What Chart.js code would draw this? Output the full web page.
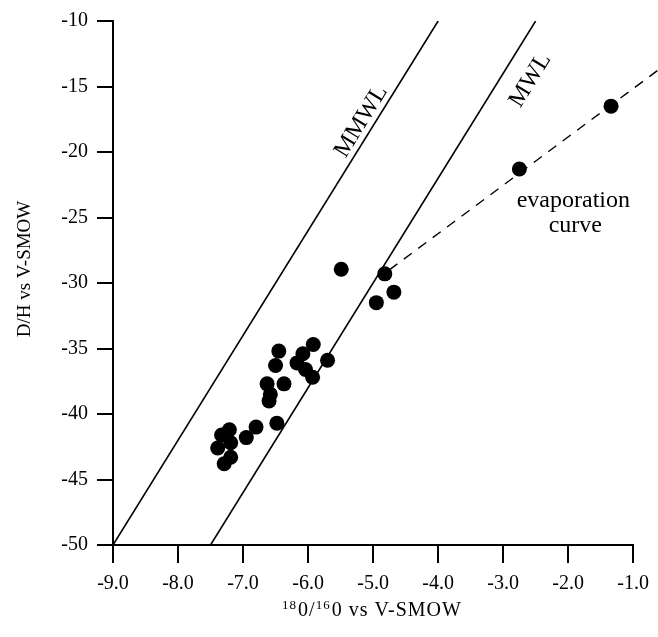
<!DOCTYPE html>
<html>
<head>
<meta charset="utf-8">
<script src="https://cdn.jsdelivr.net/npm/chart.js@4.4.1/dist/chart.umd.min.js"></script>
<style>
  html, body { margin: 0; padding: 0; background: #fff; }
  #wrap { width: 658px; height: 637px; }
</style>
</head>
<body>
<div id="wrap"><canvas id="c" width="658" height="637"></canvas></div>
<script>
// Tick values for both axes
const xTickValues = [-9, -8, -7, -6, -5, -4, -3, -2, -1];
const yTickValues = [-50, -45, -40, -35, -30, -25, -20, -15, -10];

// Water samples: delta 18O and delta D (per mil vs V-SMOW)
const sampleO18 = [
  -5.49, -4.82, -4.68, -4.95,
  -6.45, -5.92, -6.08, -5.70, -6.50, -6.17, -6.04, -5.93, -6.37, -6.63, -6.58, -6.60,
  -6.48, -6.80, -6.95, -7.21, -7.33, -7.39, -7.19, -7.19, -7.29,
  -2.75, -1.34
];
const sampleDH = [
  -28.95, -29.3, -30.7, -31.5,
  -35.2, -34.7, -35.4, -35.9, -36.3, -36.1, -36.6, -37.2, -37.7, -37.7, -38.5, -39.0,
  -40.7, -41.0, -41.8, -41.2, -41.6, -42.6, -42.2, -43.3, -43.8,
  -21.3, -16.5
];

// Reference water lines (slope 8): end points in data units
const mmwlO18 = [-9.0, -4.0];
const mmwlDH = [-50, -10];
const mwlO18 = [-7.5, -2.5];
const mwlDH = [-50, -10];

// Evaporation trend
const evapO18 = [-4.75, -0.55];
const evapDH = [-29.0, -13.5];

const SERIF = '"Liberation Serif", "Times New Roman", serif';

const pairs = (xs, ys) => xs.map((v, i) => ({ x: v, y: ys[i] }));

const annotations = {
  id: 'annotations',
  afterDatasetsDraw(chart) {
    const { ctx, scales: { x, y } } = chart;
    ctx.save();
    ctx.fillStyle = '#000';

    function lineLabel(text, xs, ys, t, offset, size) {
      const x0 = x.getPixelForValue(xs[0]), y0 = y.getPixelForValue(ys[0]);
      const x1 = x.getPixelForValue(xs[1]), y1 = y.getPixelForValue(ys[1]);
      const px = x0 + (x1 - x0) * t, py = y0 + (y1 - y0) * t;
      ctx.save();
      ctx.translate(px, py);
      ctx.rotate(Math.atan2(y1 - y0, x1 - x0));
      ctx.font = size + 'px ' + SERIF;
      ctx.textAlign = 'center';
      ctx.textBaseline = 'alphabetic';
      ctx.fillText(text, 0, offset);
      ctx.restore();
    }
    lineLabel('MMWL', mmwlO18, mmwlDH, 0.796, -6, 24);
    lineLabel('MWL', mwlO18, mwlDH, 0.914, 33, 24);

    // evaporation curve caption
    ctx.font = '24px ' + SERIF;
    ctx.textAlign = 'center';
    ctx.textBaseline = 'alphabetic';
    const cx = x.getPixelForValue(-1.92);
    const cy = y.getPixelForValue(-24.2);
    ctx.fillText('evaporation', cx, cy);
    ctx.fillText('curve', cx + 2, cy + 25);

    // y axis title
    ctx.save();
    ctx.translate(25, 269);
    ctx.rotate(-Math.PI / 2);
    ctx.font = '19px ' + SERIF;
    ctx.textAlign = 'center';
    ctx.textBaseline = 'middle';
    ctx.fillText('D/H vs V-SMOW', 0, 0);
    ctx.restore();

    // x axis title with superscript mass numbers
    const parts = [
      { t: '18', sup: true }, { t: '0/' }, { t: '16', sup: true }, { t: '0 vs V-SMOW' }
    ];
    const mainFont = '20px ' + SERIF, supFont = '13px ' + SERIF;
    ctx.letterSpacing = '1px';
    let total = 0;
    parts.forEach(p => {
      ctx.font = p.sup ? supFont : mainFont;
      p.w = ctx.measureText(p.t).width + (p.sup ? 1 : 0);
      total += p.w;
    });
    let tx = 372 - total / 2;
    const base = 616;
    ctx.textAlign = 'left';
    parts.forEach(p => {
      ctx.font = p.sup ? supFont : mainFont;
      ctx.fillText(p.t, tx, p.sup ? base - 7 : base);
      tx += p.w;
    });
    ctx.restore();
  }
};

new Chart(document.getElementById('c'), {
  type: 'scatter',
  data: {
    datasets: [
      {
        label: 'MMWL',
        type: 'line',
        data: pairs(mmwlO18, mmwlDH),
        borderColor: '#000',
        borderWidth: 1.6,
        pointRadius: 0,
        fill: false
      },
      {
        label: 'MWL',
        type: 'line',
        data: pairs(mwlO18, mwlDH),
        borderColor: '#000',
        borderWidth: 1.6,
        pointRadius: 0,
        fill: false
      },
      {
        label: 'evaporation curve',
        type: 'line',
        data: pairs(evapO18, evapDH),
        borderColor: '#000',
        borderWidth: 1.4,
        borderDash: [10, 8],
        pointRadius: 0,
        fill: false,
        clip: false
      },
      {
        label: 'samples',
        data: pairs(sampleO18, sampleDH),
        backgroundColor: '#000',
        borderWidth: 0,
        pointRadius: 7.5,
        pointHoverRadius: 7.5
      }
    ]
  },
  options: {
    responsive: false,
    animation: false,
    devicePixelRatio: 1,
    layout: { padding: { top: 21, right: 21, left: 0, bottom: 0 } },
    plugins: {
      legend: { display: false },
      tooltip: { enabled: false },
      title: { display: false }
    },
    scales: {
      x: {
        type: 'linear',
        min: -9,
        max: -1,
        afterBuildTicks: s => { s.ticks = xTickValues.map(v => ({ value: v })); },
        afterFit: s => { s.height = 92; },
        ticks: {
          callback: v => Number(v).toFixed(1),
          color: '#000',
          font: { family: SERIF, size: 20 },
          padding: 9,
          maxRotation: 0,
          autoSkip: false
        },
        grid: {
          drawOnChartArea: false,
          drawTicks: true,
          tickLength: 18,
          color: '#000',
          lineWidth: 2
        },
        border: { display: true, color: '#000', width: 2 }
      },
      y: {
        type: 'linear',
        min: -50,
        max: -10,
        afterBuildTicks: s => { s.ticks = yTickValues.map(v => ({ value: v })); },
        afterFit: s => { s.width = 113; },
        ticks: {
          color: '#000',
          font: { family: SERIF, size: 20 },
          padding: 9,
          autoSkip: false
        },
        grid: {
          drawOnChartArea: false,
          drawTicks: true,
          tickLength: 16,
          color: '#000',
          lineWidth: 2
        },
        border: { display: true, color: '#000', width: 2 }
      }
    }
  },
  plugins: [annotations]
});
</script>
</body>
</html>
